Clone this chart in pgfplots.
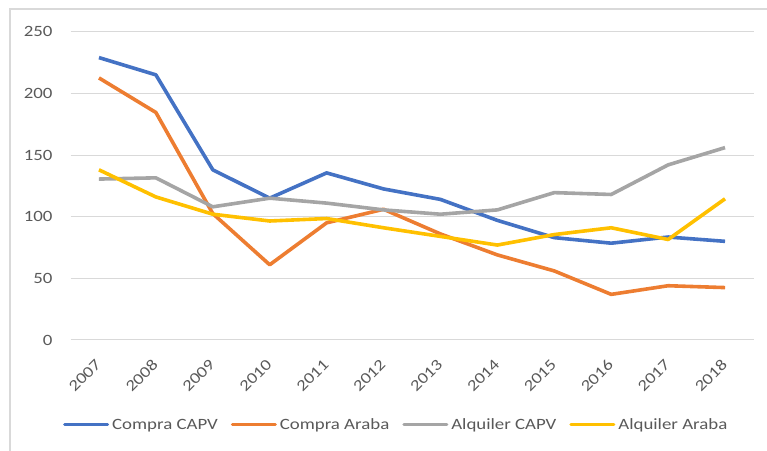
\documentclass[border=0pt]{standalone}
\usepackage{pgfplots}
\pgfplotsset{compat=1.18}
\usepackage{fontspec}
\setmainfont{Carlito}[FakeStretch=1.2]
\definecolor{cblue}{HTML}{4472C4}
\definecolor{corange}{HTML}{ED7D31}
\definecolor{cgray}{HTML}{A5A5A5}
\definecolor{cyellow}{HTML}{FFC000}
\definecolor{ctext}{HTML}{595959}
\definecolor{cgrid}{HTML}{D9D9D9}
\begin{document}
\begin{tikzpicture}
\path[use as bounding box] (0,0) rectangle (767bp,451bp);
\draw[cgrid, line width=1.2bp] (10bp,0bp) -- (10bp,442bp) -- (767bp,442bp);
\begin{axis}[
    at={(70.5bp,111bp)}, anchor=south west,
    scale only axis,
    width=683bp, height=308.3bp,
    xmin=2006.5, xmax=2018.5,
    ymin=0, ymax=250,
    xtick={2007,...,2018},
    ytick={0,50,...,250},
    /pgf/number format/1000 sep={},
    /pgf/number format/assume math mode=true,
    axis line style={draw=none},
    major tick length=0pt,
    ymajorgrids,
    grid style={cgrid, line width=1bp},
    tick label style={font=\fontsize{15.7bp}{19bp}\selectfont, text=ctext, inner sep=0pt},
    yticklabel style={anchor=east, xshift=-17.8bp},
    xticklabel style={yshift=-22bp, xshift=-0.5bp, rotate=45, anchor=east},
    every axis plot/.append style={line width=3.6bp, line join=round},
    legend columns=4,
    legend style={at={(-0.011,-0.2757)}, anchor=west, draw=none, fill=none,
        inner sep=0pt, font=\fontsize{15.7bp}{19bp}\selectfont, text=ctext,
        nodes={inner sep=0pt},
        /tikz/every odd column/.style={column sep=3bp},
        /tikz/every even column/.style={column sep=13bp}},
    legend image code/.code={\draw[#1, line width=3bp, line cap=round] (0bp,0bp) -- (43bp,0bp);},
]
\addplot[cblue] coordinates {(2007,229) (2008,215) (2009,138) (2010,115) (2011,135.5) (2012,122.5) (2013,114) (2014,97) (2015,83) (2016,78.5) (2017,83.5) (2018,80)};
\addplot[corange] coordinates {(2007,212.5) (2008,184.5) (2009,102.5) (2010,61) (2011,95) (2012,106) (2013,86) (2014,69) (2015,56) (2016,37) (2017,44) (2018,42.5)};
\addplot[cgray] coordinates {(2007,130.5) (2008,131.5) (2009,108) (2010,115) (2011,111) (2012,105.5) (2013,102) (2014,105.5) (2015,119.5) (2016,118) (2017,142) (2018,156)};
\addplot[cyellow] coordinates {(2007,138) (2008,116) (2009,102) (2010,96.5) (2011,98.5) (2012,91) (2013,84) (2014,77) (2015,85.5) (2016,91) (2017,81.5) (2018,114.5)};
\legend{Compra CAPV, Compra Araba, Alquiler CAPV, Alquiler Araba}
\end{axis}
\end{tikzpicture}
\end{document}
